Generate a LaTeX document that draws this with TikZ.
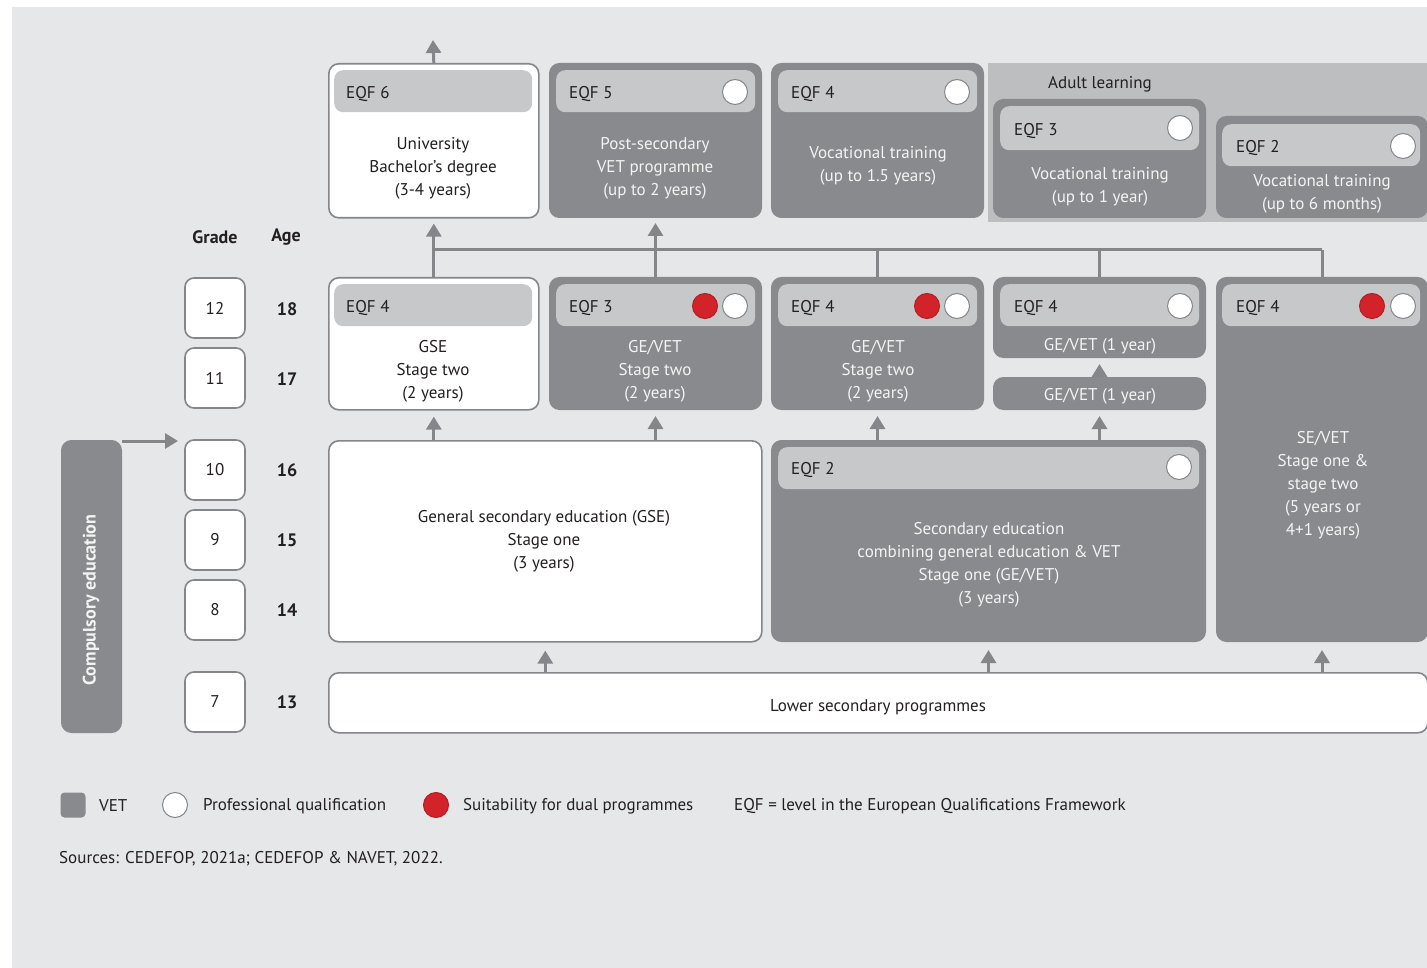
\documentclass[tikz,border=0pt]{standalone}
\usepackage{fontspec}
\setmainfont{PT Sans}
\usetikzlibrary{arrows.meta}
\definecolor{bg}{HTML}{E6E7E8}
\definecolor{dk}{HTML}{898A8D}
\definecolor{hd}{HTML}{C7C8CA}
\definecolor{al}{HTML}{BCBEC0}
\definecolor{ln}{HTML}{85868A}
\definecolor{rd}{HTML}{D2232A}
\definecolor{tx}{HTML}{231F20}
\definecolor{lt}{HTML}{F4F4F4}
\begin{document}
\begin{tikzpicture}[x=1pt,y=-1pt,
  vetbox/.style={fill=dk, draw=dk, line width=1pt, rounded corners=10pt, anchor=north west, inner sep=0pt},
  genbox/.style={fill=white, draw=ln, line width=1.6pt, rounded corners=10pt, anchor=north west, inner sep=0pt},
  hdbar/.style={fill=hd, rounded corners=9pt, anchor=north west, inner sep=0pt},
  eqf/.style={anchor=west, font=\fontsize{17}{20}\selectfont, text=tx, inner sep=0pt, yshift=-2pt},
  bodyd/.style={align=center, font=\fontsize{17}{23}\selectfont, text=lt, inner sep=0pt, yshift=-2pt},
  bodyw/.style={align=center, font=\fontsize{17}{23}\selectfont, text=tx, inner sep=0pt, yshift=-2pt},
  qual/.style={circle, fill=white, draw=ln, line width=1pt, minimum size=25pt, inner sep=0pt},
  dual/.style={circle, fill=rd, draw=rd!85!black, line width=1pt, minimum size=25pt, inner sep=0pt},
  gbox/.style={fill=white, draw=ln, line width=1.6pt, rounded corners=9pt, minimum size=60pt, inner sep=0pt, font=\fontsize{17}{20}\selectfont, text=tx},
  agetx/.style={font=\bfseries\fontsize{18}{20}\selectfont, text=tx, inner sep=0pt},
  legtx/.style={anchor=west, font=\fontsize{17}{20}\selectfont, text=tx, inner sep=0pt, yshift=-1pt},
  conn/.style={draw=ln, line width=3pt},
  arr/.style={draw=ln, line width=3pt, -{Triangle[width=15pt,length=13pt]}},
  ]
% background
\fill[white] (0,0) rectangle (1427,968);
\fill[bg] (12,7) rectangle (1427,968);
\useasboundingbox (0,0) rectangle (1427,968);

% ---------- top row ----------
\node[genbox, minimum width=210pt, minimum height=154pt] (eqf6) at (328,63) {};
\node[hdbar, minimum width=198pt, minimum height=42pt] (eqf6h) at (334,70) {};
\node[eqf] (eqf6l) at (346,92) {EQF 6};
\node[bodyw] (eqf6t) at (433,166) {University\\Bachelor’s degree\\(3-4 years)};

\node[vetbox, minimum width=212pt, minimum height=154pt] (eqf5) at (549,63) {};
\node[hdbar, minimum width=199pt, minimum height=42pt] (eqf5h) at (556,70) {};
\node[eqf] (eqf5l) at (569,92) {EQF 5};
\node[qual] (eqf5q) at (735,92) {};
\node[bodyd] (eqf5t) at (655,166) {Post-secondary\\VET programme\\(up to 2 years)};

\node[vetbox, minimum width=212pt, minimum height=154pt] (eqf4v) at (771,63) {};
\node[hdbar, minimum width=199pt, minimum height=42pt] (eqf4vh) at (778,70) {};
\node[eqf] (eqf4vl) at (791,92) {EQF 4};
\node[qual] (eqf4vq) at (957,92) {};
\node[bodyd] (eqf4vt) at (878,164) {Vocational training\\(up to 1.5 years)};

% adult learning
\node[fill=al, anchor=north west, inner sep=0pt, minimum width=439pt, minimum height=159pt] (adult) at (988,63) {};
\node[font=\fontsize{17}{20}\selectfont, text=tx, inner sep=0pt] (adultl) at (1100,84) {Adult learning};

\node[vetbox, minimum width=212pt, minimum height=118pt] (eqf3a) at (993,99) {};
\node[hdbar, minimum width=199pt, minimum height=44pt] (eqf3ah) at (1000,106) {};
\node[eqf] (eqf3al) at (1014,129) {EQF 3};
\node[qual] (eqf3aq) at (1180,128) {};
\node[bodyd] (eqf3at) at (1100,185) {Vocational training\\(up to 1 year)};

\node[vetbox, minimum width=211pt, minimum height=101pt] (eqf2a) at (1216,116) {};
\node[hdbar, minimum width=198pt, minimum height=42pt] (eqf2ah) at (1222,124) {};
\node[eqf] (eqf2al) at (1236,146) {EQF 2};
\node[qual] (eqf2aq) at (1403,146) {};
\node[bodyd] (eqf2at) at (1322,192) {Vocational training\\(up to 6 months)};

% ---------- headings ----------
\node[agetx] (gradeh) at (215,237) {Grade};
\node[agetx] (ageh) at (286,237) {Age};

% ---------- middle row ----------
\node[genbox, minimum width=210pt, minimum height=132pt] (gse2) at (328,277) {};
\node[hdbar, minimum width=198pt, minimum height=42pt] (gse2h) at (334,284) {};
\node[eqf] (gse2l) at (346,306) {EQF 4};
\node[bodyw] (gse2t) at (433,369) {GSE\\Stage two\\(2 years)};

\node[vetbox, minimum width=212pt, minimum height=132pt] (ge3) at (549,277) {};
\node[hdbar, minimum width=199pt, minimum height=42pt] (ge3h) at (556,284) {};
\node[eqf] (ge3l) at (569,306) {EQF 3};
\node[dual] (ge3d) at (705,306) {};
\node[qual] (ge3q) at (735,306) {};
\node[bodyd] (ge3t) at (655,369) {GE/VET\\Stage two\\(2 years)};

\node[vetbox, minimum width=212pt, minimum height=132pt] (ge4) at (771,277) {};
\node[hdbar, minimum width=199pt, minimum height=42pt] (ge4h) at (778,284) {};
\node[eqf] (ge4l) at (791,306) {EQF 4};
\node[dual] (ge4d) at (927,306) {};
\node[qual] (ge4q) at (957,306) {};
\node[bodyd] (ge4t) at (878,369) {GE/VET\\Stage two\\(2 years)};

\node[vetbox, minimum width=212pt, minimum height=80pt] (ge1y) at (993,277) {};
\node[hdbar, minimum width=199pt, minimum height=42pt] (ge1yh) at (1000,284) {};
\node[eqf] (ge1yl) at (1014,306) {EQF 4};
\node[qual] (ge1yq) at (1180,306) {};
\node[bodyd] (ge1yt) at (1100,344) {GE/VET (1 year)};

\node[vetbox, minimum width=212pt, minimum height=32pt] (gelow) at (993,377) {};
\node[bodyd] (gelowt) at (1100,394) {GE/VET (1 year)};

\node[vetbox, minimum width=211pt, minimum height=364pt] (sevet) at (1216,277) {};
\node[hdbar, minimum width=198pt, minimum height=42pt] (sevetH) at (1222,284) {};
\node[eqf] (sevetl) at (1236,306) {EQF 4};
\node[dual] (sevetd) at (1372,306) {};
\node[qual] (sevetq) at (1403,306) {};
\node[bodyd] (sevett) at (1323,483) {SE/VET\\Stage one \&\\stage two\\(5 years or\\4+1 years)};

% ---------- lower row ----------
\node[genbox, minimum width=433pt, minimum height=201pt] (gse1) at (328,440) {};
\node[bodyw] (gse1t) at (544,539) {General secondary education (GSE)\\Stage one\\(3 years)};

\node[vetbox, minimum width=434pt, minimum height=201pt] (eqf2) at (771,440) {};
\node[hdbar, minimum width=421pt, minimum height=42pt] (eqf2h) at (778,447) {};
\node[eqf] (eqf2l) at (791,468) {EQF 2};
\node[qual] (eqf2q) at (1179,467) {};
\node[bodyd] (eqf2t) at (989,563) {Secondary education\\combining general education \& VET\\Stage one (GE/VET)\\(3 years)};

\node[genbox, minimum width=1099pt, minimum height=60pt] (lower) at (328,672) {};
\node[bodyw] (lowert) at (878,705) {Lower secondary programmes};

% ---------- grades / ages ----------
\node[gbox] (g12) at (215,308) {12};
\node[gbox] (g11) at (215,378) {11};
\node[gbox] (g10) at (215,470) {10};
\node[gbox] (g9) at (215,540) {9};
\node[gbox] (g8) at (215,610) {8};
\node[gbox] (g7) at (215,702) {7};
\node[agetx] (a18) at (287,309) {18};
\node[agetx] (a17) at (287,379) {17};
\node[agetx] (a16) at (287,470) {16};
\node[agetx] (a15) at (287,540) {15};
\node[agetx] (a14) at (287,610) {14};
\node[agetx] (a13) at (287,702) {13};

% compulsory education
\node[vetbox, minimum width=60pt, minimum height=292pt] (comp) at (61,440) {};
\node[rotate=90, text=lt, font=\bfseries\fontsize{18}{20}\selectfont, inner sep=0pt] (compt) at (91,600) {Compulsory education};
\coordinate (compto) at (178,441);
\draw[arr] ([yshift=-1pt]comp.north east) -- (compto);

% ---------- connectors ----------
\coordinate (topend) at (433,40);
\draw[arr] (eqf6.north) -- (topend);
\coordinate (busL) at (433,250);
\draw[conn] (busL) -- (sevet.north |- busL);
\draw[arr, shorten >=5pt] (gse2.north) -- (eqf6.south);
\draw[arr, shorten >=5pt] (ge3.north) -- (eqf5.south);
\draw[conn] (ge4.north) -- (ge4.north |- busL);
\draw[conn] (ge1y.north) -- (ge1y.north |- busL);
\draw[conn] (sevet.north) -- (sevet.north |- busL);

\draw[arr, shorten >=6pt] (gse2.south |- gse1.north) -- (gse2.south);
\draw[arr, shorten >=6pt] (ge3.south |- gse1.north) -- (ge3.south);
\draw[arr, shorten >=6pt] (ge4.south |- eqf2.north) -- (ge4.south);
\draw[arr, shorten >=6pt] (gelow.south |- eqf2.north) -- (gelow.south);
\draw[arr, shorten >=6pt] (gelow.north) -- (ge1y.south);

\draw[arr, shorten >=8pt] (gse1.south |- lower.north) -- (gse1.south);
\draw[arr, shorten >=8pt] (eqf2.south |- lower.north) -- (eqf2.south);
\draw[arr, shorten >=8pt] (sevet.south |- lower.north) -- (sevet.south);

% ---------- legend ----------
\node[fill=dk, rounded corners=4pt, minimum width=25pt, minimum height=25pt, inner sep=0pt] (legv) at (73,805) {};
\node[legtx] (legvt) at (99,805) {VET};
\node[qual] (legq) at (175,805) {};
\node[legtx] (legqt) at (203,805) {Professional qualification};
\node[dual] (legd) at (436,805) {};
\node[legtx] (legdt) at (463,805) {Suitability for dual programmes};
\node[legtx] (legeqf) at (734,805) {EQF = level in the European Qualifications Framework};
\node[legtx] (src) at (59,858) {Sources: CEDEFOP, 2021a; CEDEFOP \& NAVET, 2022.};
\end{tikzpicture}
\end{document}
